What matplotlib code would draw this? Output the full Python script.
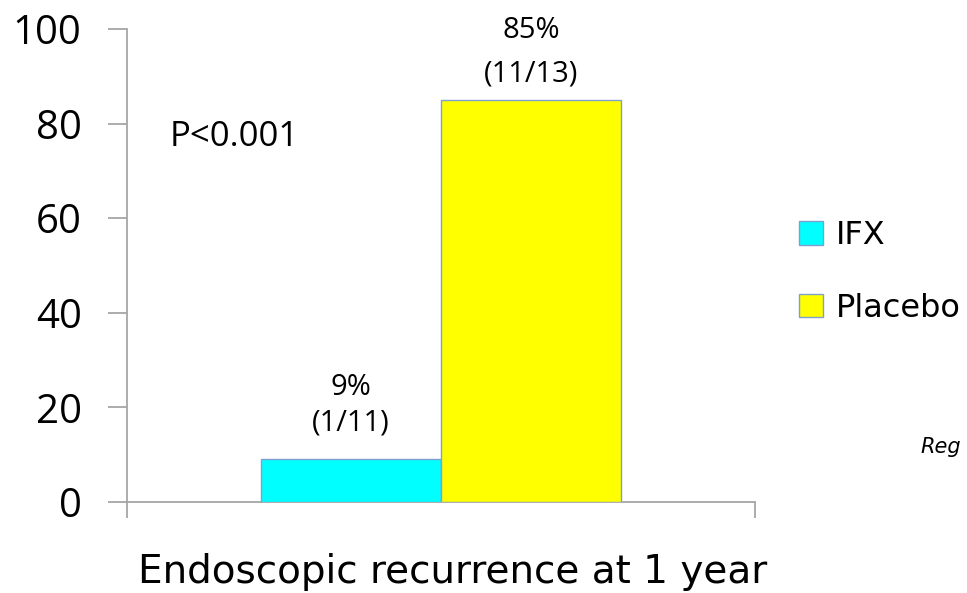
import matplotlib
matplotlib.use("Agg")
import matplotlib.pyplot as plt
from matplotlib.patches import Patch

# ---- data ----
groups = ["IFX", "Placebo"]
values = [9, 85]
pct_labels = ["9%", "85%"]
count_labels = ["(1/11)", "(11/13)"]
yticks = [0, 20, 40, 60, 80, 100]
title = "Endoscopic recurrence at 1 year"
pvalue_text = "P<0.001"
citation = "Reg"

# ---- style ----
colors = ["#00FFFF", "#FFFF00"]
edge = "#7F9FD0"
axis_gray = "#A6A6A6"
num_font = ["Open Sans", "DejaVu Sans"]
lab_font = ["DejaVu Sans"]

fig = plt.figure(figsize=(9.67, 5.93), dpi=100)
ax = fig.add_axes([127/967, 1-502/593, 628/967, (502-29)/593])

width = 0.2866
centers = [0.5 - width/2, 0.5 + width/2]
bars = ax.bar(centers, values, width=width, color=colors, edgecolor=edge, linewidth=1.0, zorder=3)

ax.set_xlim(0, 1)
ax.set_ylim(0, 100)
ax.set_yticks(yticks)
ax.set_yticklabels([str(t) for t in yticks], fontfamily=num_font, fontsize=29)
ax.set_xticks([0, 1])
ax.set_xticklabels(["", ""])

for s in ["top", "right"]:
    ax.spines[s].set_visible(False)
for s in ["left", "bottom"]:
    ax.spines[s].set_color(axis_gray)
    ax.spines[s].set_linewidth(1.3)
ax.tick_params(axis="y", direction="out", length=13.7, width=1.3, color=axis_gray, pad=19, labelcolor="black")
ax.tick_params(axis="x", direction="out", length=11.5, width=1.3, color=axis_gray)

# value labels above bars (offsets in points from bar top, text centers)
count_offsets = [26, 19]
pct_offsets = [52, 50]
for c, v, p, n, co, po in zip(centers, values, pct_labels, count_labels, count_offsets, pct_offsets):
    ax.annotate(n, (c, v), xytext=(0, co), textcoords="offset points", ha="center", va="center",
                fontsize=21, fontfamily=num_font)
    ax.annotate(p, (c, v), xytext=(0, po), textcoords="offset points", ha="center", va="center",
                fontsize=21, fontfamily=num_font)

ax.text(0.068, 77.2, pvalue_text, ha="left", va="center", fontsize=25, fontfamily=num_font)

fig.text(453/967, 1-572/593, title, ha="center", va="center", fontsize=28, fontfamily=lab_font)

handles = [Patch(facecolor=col, edgecolor=edge, linewidth=1.0) for col in colors]
fig.legend(handles, groups, loc="upper left", bbox_to_anchor=(799/967, 1-220/593),
           frameon=False, handlelength=0.75, handleheight=0.75,
           handletextpad=0.4, labelspacing=1.3, borderpad=0, borderaxespad=0,
           prop={"family": lab_font, "size": 23})

fig.text(920/967, 1-447/593, citation, ha="left", va="center", fontsize=15, style="italic",
         fontfamily=lab_font)

fig.savefig("out.png", dpi=100)
